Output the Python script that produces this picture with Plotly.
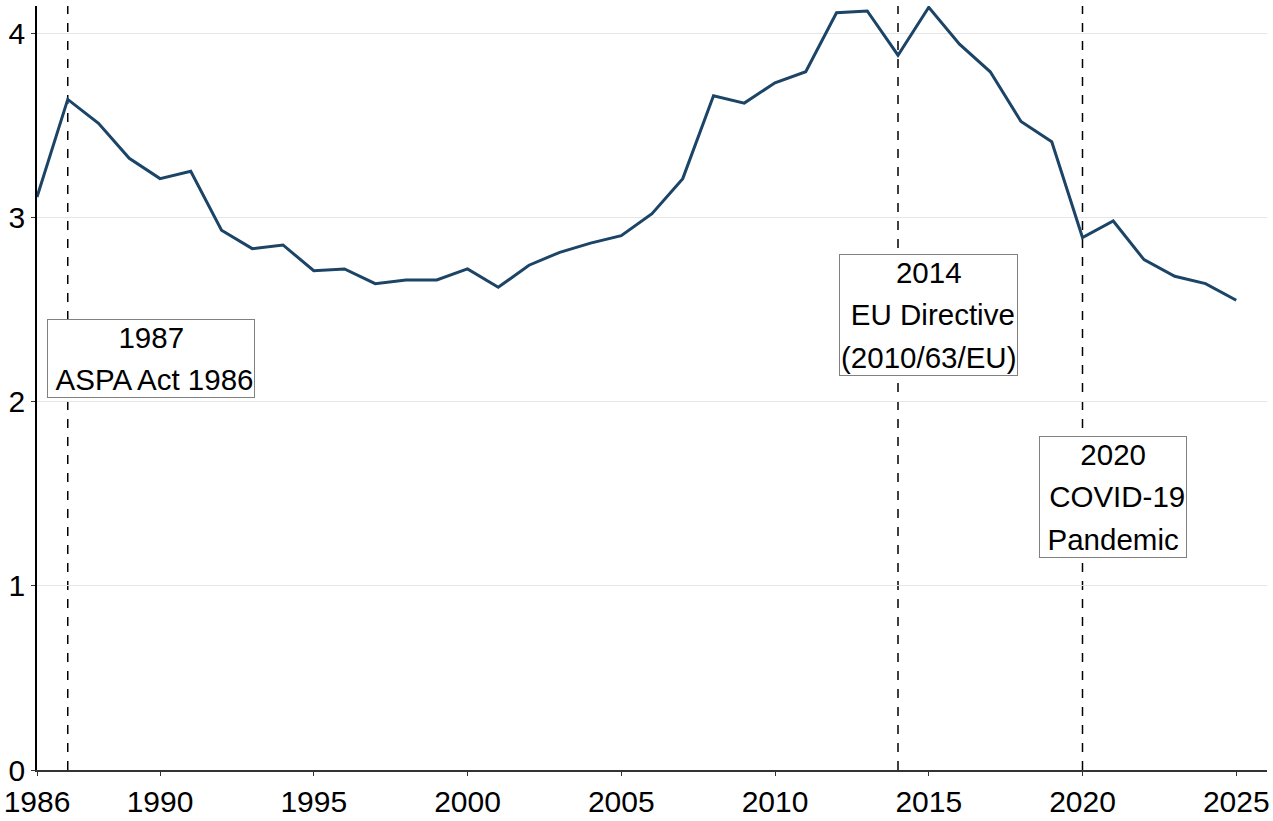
import plotly.graph_objects as go

years = list(range(1986, 2026))
values = [3.11, 3.64, 3.51, 3.32, 3.21, 3.25, 2.93, 2.83, 2.85, 2.71,
          2.72, 2.64, 2.66, 2.66, 2.72, 2.62, 2.74, 2.81, 2.86, 2.90,
          3.02, 3.21, 3.66, 3.62, 3.73, 3.79, 4.11, 4.12, 3.88, 4.14,
          3.94, 3.79, 3.52, 3.41, 2.89, 2.98, 2.77, 2.68, 2.64, 2.55]

event_years = [1987, 2014, 2020]
event_labels = [["1987", " ASPA Act 1986"],
                ["2014", " EU Directive", "(2010/63/EU)"],
                ["2020", " COVID-19", "Pandemic"]]
label_x = [1989.7, 2015.0, 2021.0]
label_y = [2.233, 2.472, 1.484]

x_ticks = [1986, 1990, 1995, 2000, 2005, 2010, 2015, 2020, 2025]
y_ticks = [0, 1, 2, 3, 4]

FONT = "Liberation Sans, Arial, sans-serif"

fig = go.Figure()
fig.add_trace(go.Scatter(x=years, y=values, mode="lines",
                         line=dict(color="#1b4466", width=3),
                         showlegend=False, hoverinfo="skip"))

for ey in event_years:
    fig.add_shape(type="line", x0=ey, x1=ey, y0=0, y1=1, xref="x", yref="paper",
                  line=dict(color="black", width=1.5, dash="dash"), layer="below")

for lx, ly, lines in zip(label_x, label_y, event_labels):
    txt = "<br>".join(f"<span style='font-size:29.5px'>{l}</span>" for l in lines)
    fig.add_annotation(x=lx, y=ly, xref="x", yref="y", text=txt, showarrow=False,
                       font=dict(family=FONT, size=32.5, color="black"),
                       bgcolor="white", bordercolor="#808080", borderwidth=1,
                       borderpad=1, align="center")

fig.update_layout(
    width=1273, height=821,
    margin=dict(l=37, r=6, t=6, b=51, autoexpand=False),
    paper_bgcolor="white", plot_bgcolor="white",
    font=dict(family=FONT, size=30, color="black"),
    xaxis=dict(range=[1986, 2026], tickvals=x_ticks, ticktext=[str(t) for t in x_ticks],
               showgrid=False, zeroline=False, showline=True, linecolor="#333333",
               linewidth=2, ticks="outside", ticklen=4, tickcolor="#333333",
               automargin=False,
               tickfont=dict(family=FONT, size=30, color="black")),
    yaxis=dict(range=[0, 4.147], tickvals=y_ticks, ticktext=[str(t) for t in y_ticks],
               showgrid=True, gridcolor="#e6e6e6", gridwidth=1, zeroline=False,
               showline=True, linecolor="black", linewidth=1.5, ticks="outside",
               ticklen=4, tickcolor="#333333", automargin=False,
               tickfont=dict(family=FONT, size=30, color="black")),
)

fig.write_html("out.html")
